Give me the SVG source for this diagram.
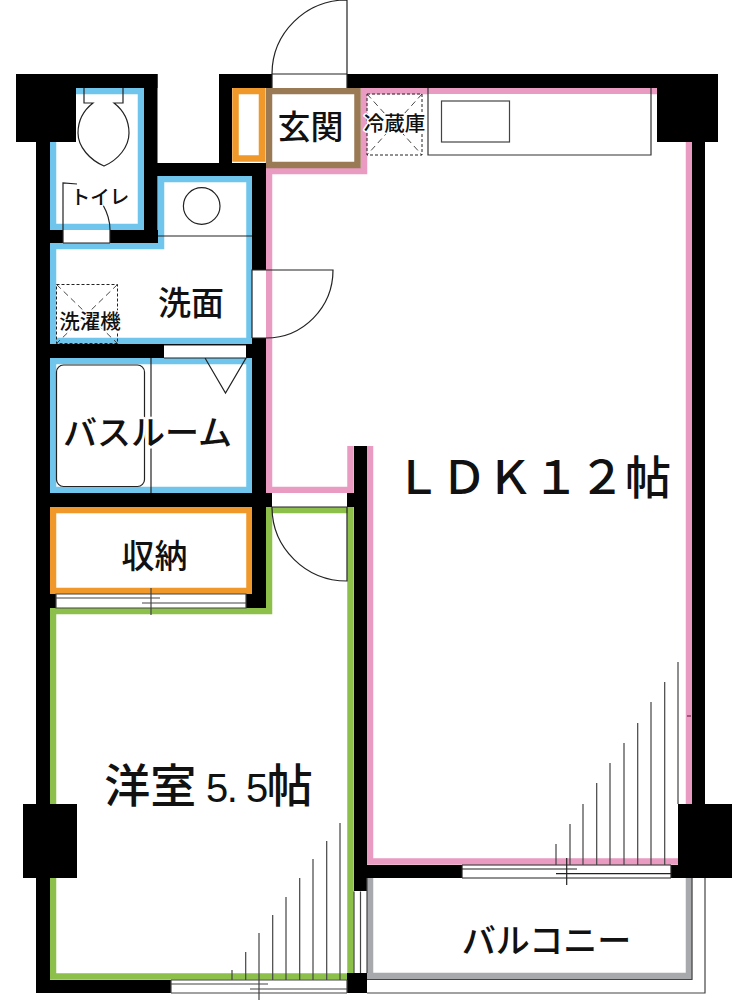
<svg xmlns="http://www.w3.org/2000/svg" width="732" height="1000" viewBox="0 0 732 1000">
<style>
.band{fill:none;stroke-width:6.5;stroke-linejoin:miter}
.l{fill:none;stroke:#222;stroke-width:1.2}
.g{fill:none;stroke:#444;stroke-width:1.2}
.d{fill:none;stroke:#222;stroke-width:1;stroke-dasharray:3 2}
.dd{fill:none;stroke:#333;stroke-width:.9;stroke-dasharray:6 4}
.w{fill:#fff}
.b{fill:#000}
text{font-family:"Noto Sans CJK JP","Noto Sans",sans-serif;font-weight:500;fill:#111;text-anchor:middle;paint-order:stroke;stroke:#fff;stroke-width:5;stroke-linejoin:round}
.t{stroke-width:3}
</style>
<rect width="732" height="1000" fill="#fff"/>
<g id="bands">
<path class="band" stroke="#6fc5ec" d="M53,91H141V227H53Z"/>
<path class="band" stroke="#6fc5ec" d="M161,179H249.500V341H53V246H161Z"/>
<path class="band" stroke="#6fc5ec" d="M53,361H249.500V490H53Z"/>
<path class="band" stroke="#f0982a" d="M53,510H249.500V591H53Z"/>
<path class="band" stroke="#f0982a" d="M235.500,91H262V158.500H235.500Z"/>
<path class="band" stroke="#e99bc2" d="M370,446V861.500H689V91H364V171H269V490H350.500V446"/>
<path class="band" stroke="#9a7a55" d="M269,91H357.500V165H269Z"/>
<path class="band" stroke="#8cc04a" d="M53,611H269V510H350.500V976.500H53Z"/>
<path class="band" stroke="#a8a9ad" d="M370,878V976H689V878"/>
</g>
<g id="walls">
<rect class="b" x="16" y="74" width="60" height="68"/>
<rect class="b" x="16" y="74" width="141.500" height="14"/>
<rect class="b" x="144" y="74" width="13.500" height="169"/>
<rect class="b" x="36" y="142" width="14" height="851"/>
<rect class="b" x="23" y="804" width="54" height="74"/>
<rect class="b" x="50" y="230" width="108" height="13"/>
<rect class="b" x="144" y="163" width="122" height="13"/>
<rect class="b" x="219" y="74" width="13" height="102"/>
<rect class="b" x="219" y="74" width="499" height="14"/>
<rect class="b" x="657" y="74" width="61" height="68"/>
<rect class="b" x="692" y="142" width="13" height="670"/>
<rect class="b" x="678" y="804" width="54" height="74"/>
<rect class="b" x="252" y="163" width="14" height="445"/>
<rect class="b" x="36" y="344" width="216" height="14"/>
<rect class="b" x="36" y="493" width="236" height="14"/>
<rect class="b" x="347" y="493" width="7" height="14"/>
<rect class="b" x="36" y="594" width="230" height="14"/>
<rect class="b" x="354" y="446" width="13" height="547"/>
<rect class="b" x="367" y="865" width="311" height="13"/>
<rect class="b" x="36" y="980" width="331" height="13"/>
<rect class="b" x="347" y="973" width="20" height="20"/>
</g>
<g id="openings">
<rect class="w" x="272" y="74" width="75" height="14"/>
<rect class="w" x="252" y="270" width="14" height="68"/>
<rect class="w" x="63" y="230" width="47" height="13"/>
<rect class="w" x="164" y="345" width="82" height="13"/>
<rect class="w" x="272" y="493" width="75" height="14"/>
<rect class="w" x="56" y="594" width="190" height="14"/>
<rect class="w" x="171" y="980" width="176" height="13"/>
<rect class="w" x="462" y="865" width="209" height="13"/>
<rect class="w" x="354" y="891" width="13" height="82"/>
</g>
<g id="fixtures">
<path class="l" d="M272,88V74H347V88M347,74V0A75,74 0 0 0 272,74"/>
<path class="l" d="M252,338V270H333A67,68 0 0 1 266,338H252"/>
<path class="l" d="M63,243V183L77,184M63,243H110M110,243V230C110,220 107,212 103,205"/>
<path class="l" d="M272,507H347V581A75,74 0 0 1 272,507"/>
<path class="l" d="M164,358H246L225.500,393L205,358M164,345H246"/>
<path class="l" d="M84,88V103H93C84,110 78,121 78,133C78,147 90,160 104,166C118,160 129,147 129,133C129,121 123,110 114,103H123V88"/>
<circle class="l" cx="201.700" cy="206" r="18.300"/>
<path class="l" d="M158,236H252"/>
<rect class="d" x="56.500" y="284.500" width="61" height="59"/>
<path class="dd" d="M56.500,284.500L117.500,343.500M117.500,284.500L56.500,343.500"/>
<rect class="l" x="56.500" y="365" width="88" height="121.500" rx="7"/>
<path class="l" d="M151,358V493"/>
<path class="g" d="M56,594H246V608H56ZM56,598H160M142,603H246M151,588V615"/>
<rect class="d" x="367" y="94" width="55" height="61"/>
<path class="dd" d="M367,94L422,155M422,94L367,155"/>
<rect x="428" y="94" width="223" height="61" fill="#fff"/>
<path d="M428,88V155H651V88" fill="none" stroke="#333" stroke-width="1.200"/>
<rect x="441.500" y="101" width="68" height="41" fill="#fff" stroke="#444" stroke-width="1.200"/>
<path class="g" d="M354,891.500V973M360.500,891.500V973M367,878V973"/>
<path class="g" d="M367,979.500H692V878M367,993H705V878"/>
<path class="g" d="M171,980H347M171,993H347M171,984H268M250,989H347M259,933V1000M171,980V993M347,980V993"/>
<path class="g" d="M232,970V980M245.700,952V980M272.700,915V980M286,897V980M299.700,878V980M313,859V980M326.700,841V980M340,823V980"/>
<path class="l" d="M462,865H671M462,878H671M462,869H577M556,873.700H671M566.700,858V885M462,865V878M671,865V878"/>
<path class="g" d="M556,844V865M570,824V865M583,804V865M596.700,783V865M610,763V865M624,743V865M637.700,723V865M651,702V865M664.700,682V865M678,662V804"/>
<path d="M687,716H691" stroke="#7a2450" stroke-width="1.200"/>
</g>
<g id="labels">
<text class="t" x="310.500" y="139" font-size="33">玄関</text>
<text class="t" x="100" y="204" font-size="19.500">トイレ</text>
<text class="t" x="191" y="315" font-size="33">洗面</text>
<text class="t" x="90" y="329" font-size="20.500">洗濯機</text>
<text class="t" x="394.500" y="131" font-size="20.500">冷蔵庫</text>
<text x="147.500" y="445" font-size="34">バスルーム</text>
<text class="t" x="154.500" y="568" font-size="33">収納</text>
<text class="t" x="533" y="494" font-size="46">ＬＤＫ１２帖</text>
<text class="t" x="208.500" y="802" font-size="46">洋室<tspan textLength="72" lengthAdjust="spacing" font-family="Liberation Sans" font-weight="400" font-size="40"> 5. 5</tspan>帖</text>
<text class="t" x="546.500" y="953" font-size="34">バルコニー</text>
</g>
</svg>
